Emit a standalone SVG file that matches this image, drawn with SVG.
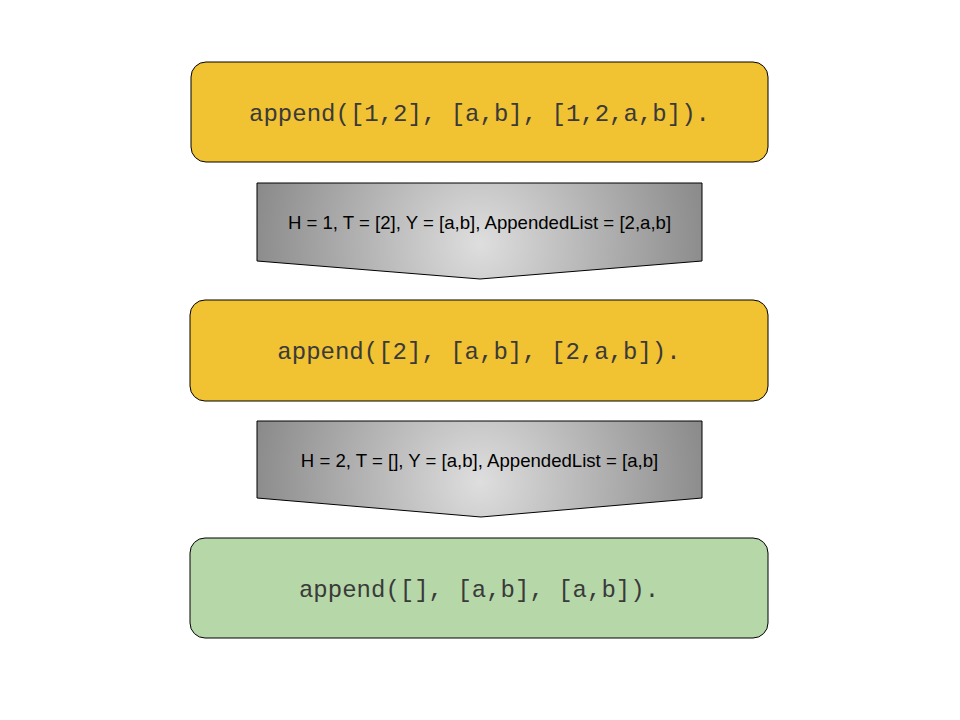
<svg xmlns="http://www.w3.org/2000/svg" width="960" height="720" viewBox="0 0 960 720">
<defs>
<radialGradient id="g1" gradientUnits="userSpaceOnUse" cx="480" cy="244" r="235">
<stop offset="0" stop-color="#dedede"/>
<stop offset="1" stop-color="#888"/>
</radialGradient>
<radialGradient id="g2" gradientUnits="userSpaceOnUse" cx="480" cy="482" r="235">
<stop offset="0" stop-color="#dedede"/>
<stop offset="1" stop-color="#888"/>
</radialGradient>
<style>
.box{stroke:#000;stroke-width:1}
.y{fill:#f1c232}
.gr{fill:#b6d7a8}
.arr{stroke:#000;stroke-width:1}
.mono{font-family:"Liberation Mono","Courier New",monospace;font-size:24px;fill:#3a3a3a;text-anchor:middle}
.sans{font-family:"Liberation Sans",Arial,sans-serif;font-size:18.6px;fill:#000;text-anchor:middle}
</style>
</defs>
<rect width="960" height="720" fill="#fff"/>
<g id="n1"><rect class="box y" x="191" y="62" width="577" height="100" rx="15"/><text class="mono" x="479.5" y="121">append([1,2], [a,b], [1,2,a,b]).</text></g>
<g id="c1"><path class="arr" fill="url(#g1)" d="M257,183 H702 V261 L480,279 L257,261 Z"/><text class="sans" x="479.5" y="229">H = 1, T = [2], Y = [a,b], AppendedList = [2,a,b]</text></g>
<g id="n2"><rect class="box y" x="190" y="300" width="578" height="101" rx="15"/><text class="mono" x="479" y="359">append([2], [a,b], [2,a,b]).</text></g>
<g id="c2"><path class="arr" fill="url(#g2)" d="M257,421 H702 V498 L481,517 L257,498 Z"/><text class="sans" x="479.5" y="467">H = 2, T = [], Y = [a,b], AppendedList = [a,b]</text></g>
<g id="n3"><rect class="box gr" x="190" y="538" width="578" height="100" rx="15"/><text class="mono" x="479" y="597">append([], [a,b], [a,b]).</text></g>
</svg>
